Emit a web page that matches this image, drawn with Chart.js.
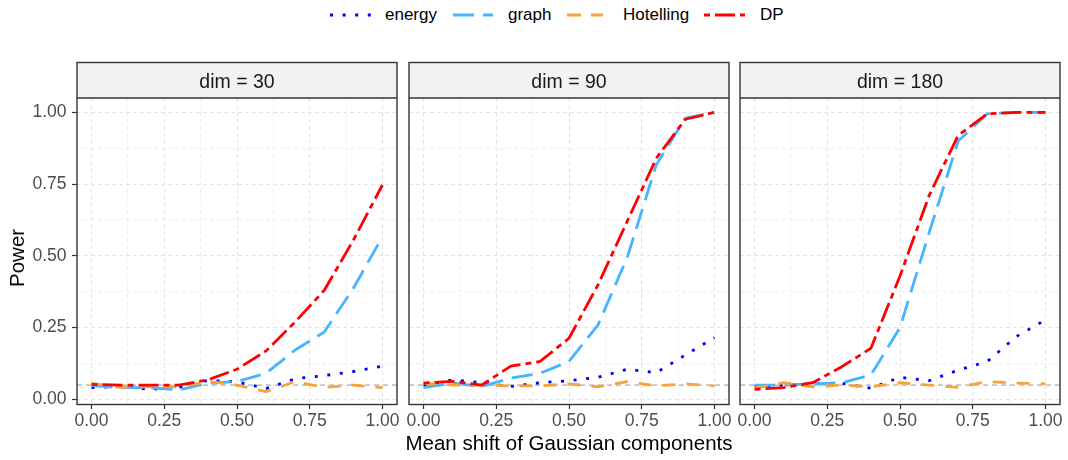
<!DOCTYPE html>
<html><head><meta charset="utf-8">
<script src="https://cdn.jsdelivr.net/npm/chart.js@4"></script>
<style>
html,body{margin:0;padding:0;background:#fff;width:1068px;height:460px;overflow:hidden;font-family:"Liberation Sans",Arial,sans-serif;}
canvas{position:absolute;}
.lt{position:absolute;top:4px;font-size:17px;line-height:22px;color:#000;white-space:nowrap;}
.ls{position:absolute;top:10px;}
#ytitle{position:absolute;left:17px;top:258px;transform:translate(-50%,-50%) rotate(-90deg);font-size:20.5px;color:#000;white-space:nowrap;}
#xtitle{position:absolute;left:569px;top:443px;transform:translate(-50%,-50%);font-size:20.5px;color:#000;white-space:nowrap;}
</style></head><body>

<svg class="ls" style="left:330px" width="42" height="10"><line x1="0" y1="5" x2="42" y2="5" stroke="#0000FF" stroke-width="3" stroke-dasharray="3 9.6"/></svg>
<div class="lt" style="left:385px">energy</div>
<svg class="ls" style="left:453px" width="40" height="10"><line x1="0" y1="5" x2="40" y2="5" stroke="#45B5FF" stroke-width="3" stroke-dasharray="21 9"/></svg>
<div class="lt" style="left:508px">graph</div>
<svg class="ls" style="left:567px" width="36" height="10"><line x1="0" y1="5" x2="36" y2="5" stroke="#F4A43A" stroke-width="3" stroke-dasharray="14 10"/></svg>
<div class="lt" style="left:623px">Hotelling</div>
<svg class="ls" style="left:704px" width="41" height="10"><line x1="0" y1="5" x2="41" y2="5" stroke="#FF0000" stroke-width="3" stroke-dasharray="6 5 20 5"/></svg>
<div class="lt" style="left:760px">DP</div>

<canvas id="c1" width="400" height="380" style="left:0px;top:60px"></canvas>
<canvas id="c2" width="330" height="380" style="left:405px;top:60px"></canvas>
<canvas id="c3" width="333" height="380" style="left:735px;top:60px"></canvas>

<div id="ytitle">Power</div>
<div id="xtitle">Mean shift of Gaussian components</div>

<script>
// ---- data ----
const shift = [0, 0.1, 0.2, 0.3, 0.4, 0.5, 0.6, 0.7, 0.8, 0.9, 1.0];
const dims = ["dim = 30", "dim = 90", "dim = 180"];
const methods = ["energy", "graph", "Hotelling", "DP"];

const energy30    = [0.041, 0.045, 0.035, 0.041, 0.066, 0.061, 0.038, 0.072, 0.083, 0.097, 0.116];
const graph30     = [0.048, 0.041, 0.041, 0.033, 0.056, 0.062, 0.091, 0.172, 0.235, 0.387, 0.567];
const hotelling30 = [0.056, 0.042, 0.044, 0.044, 0.062, 0.050, 0.027, 0.062, 0.042, 0.050, 0.041];
const dp30        = [0.052, 0.050, 0.050, 0.050, 0.068, 0.105, 0.169, 0.270, 0.380, 0.555, 0.747];

const energy90    = [0.050, 0.068, 0.058, 0.045, 0.058, 0.065, 0.077, 0.105, 0.093, 0.155, 0.215];
const graph90     = [0.041, 0.057, 0.045, 0.074, 0.091, 0.132, 0.260, 0.494, 0.817, 0.980, 1.000];
const hotelling90 = [0.057, 0.050, 0.050, 0.047, 0.047, 0.054, 0.044, 0.062, 0.047, 0.054, 0.047];
const dp90        = [0.057, 0.063, 0.050, 0.116, 0.132, 0.213, 0.400, 0.620, 0.840, 0.976, 1.000];

const energy180    = [0.045, 0.050, 0.054, 0.056, 0.039, 0.077, 0.065, 0.102, 0.132, 0.219, 0.277];
const graph180     = [0.050, 0.050, 0.054, 0.058, 0.085, 0.250, 0.580, 0.900, 0.995, 1.000, 1.000];
const hotelling180 = [0.039, 0.058, 0.044, 0.050, 0.044, 0.058, 0.050, 0.042, 0.062, 0.057, 0.054];
const dp180        = [0.035, 0.041, 0.058, 0.114, 0.178, 0.430, 0.710, 0.920, 0.995, 1.000, 1.000];

const nominalLevel = 0.05;
const xTickValues = [0, 0.125, 0.25, 0.375, 0.5, 0.625, 0.75, 0.875, 1.0];
const yTickValues = [0, 0.125, 0.25, 0.375, 0.5, 0.625, 0.75, 0.875, 1.0];

// ---- styles ----
const FONT = '"Liberation Sans", Arial, sans-serif';
const styles = {
  energy:    {color: '#0000FF', dash: [3, 9.6], order: 4},
  graph:     {color: '#45B5FF', dash: [21, 9], order: 3},
  Hotelling: {color: '#F4A43A', dash: [13, 11], order: 2},
  DP:        {color: '#FF0000', dash: [6, 5, 20, 5], order: 1}
};
const stripH = 35.5;
const isMajor = v => Math.abs(v * 4 - Math.round(v * 4)) < 1e-6;

function decoPlugin(title) {
  return {
    id: 'panelDeco',
    beforeDatasetsDraw(chart) {
      const {ctx, chartArea: a, scales: {y}} = chart;
      const py = y.getPixelForValue(nominalLevel);
      ctx.save();
      ctx.beginPath(); ctx.rect(a.left, a.top, a.width, a.height); ctx.clip();
      ctx.strokeStyle = '#C4C4C4'; ctx.lineWidth = 1.8; ctx.setLineDash([5, 4]);
      ctx.beginPath(); ctx.moveTo(a.left, py); ctx.lineTo(a.right, py); ctx.stroke();
      ctx.restore();
    },
    afterDraw(chart) {
      const {ctx, chartArea: a} = chart;
      const top = a.top - stripH;
      ctx.save();
      ctx.fillStyle = '#F2F2F2';
      ctx.fillRect(a.left, top, a.width, stripH);
      ctx.strokeStyle = '#333333'; ctx.lineWidth = 1.4; ctx.setLineDash([]);
      ctx.strokeRect(a.left, top, a.width, a.bottom - top);
      ctx.beginPath(); ctx.moveTo(a.left, a.top); ctx.lineTo(a.right, a.top); ctx.stroke();
      ctx.fillStyle = '#1A1A1A';
      ctx.font = '19.5px ' + FONT;
      ctx.textAlign = 'center'; ctx.textBaseline = 'alphabetic';
      ctx.fillText(title, (a.left + a.right) / 2, a.top - 10);
      ctx.restore();
    }
  };
}

function makePanel(id, title, series, showY, pad) {
  const datasets = methods.map((m, i) => ({
    label: m,
    data: shift.map((x, k) => ({x: x, y: series[i][k]})),
    borderColor: styles[m].color,
    borderDash: styles[m].dash,
    borderWidth: 2.8,
    borderCapStyle: 'butt',
    borderJoinStyle: 'round',
    pointRadius: 0,
    tension: 0,
    fill: false,
    order: styles[m].order
  }));
  const gridColor = c => (c.tick && isMajor(c.tick.value)) ? '#E3E3E3' : '#EFEFEF';
  const tickCol = c => (c.tick && isMajor(c.tick.value)) ? '#333333' : 'rgba(0,0,0,0)';
  return new Chart(document.getElementById(id), {
    type: 'line',
    data: {datasets},
    plugins: [decoPlugin(title)],
    options: {
      responsive: false,
      animation: false,
      events: [],
      layout: {padding: pad},
      plugins: {legend: {display: false}, tooltip: {enabled: false}},
      scales: {
        x: {
          type: 'linear', min: -0.05, max: 1.05,
          afterBuildTicks: s => { s.ticks = xTickValues.map(v => ({value: v})); },
          afterFit: s => { s.height = 35.5; s.paddingLeft = 0; s.paddingRight = 0; },
          ticks: {
            autoSkip: false, maxRotation: 0, padding: 2,
            color: '#4D4D4D', font: {family: FONT, size: 17.5},
            callback: v => isMajor(v) ? v.toFixed(2) : ''
          },
          grid: {color: gridColor, lineWidth: 1, tickLength: 4.5, tickColor: tickCol, tickWidth: 1.2, tickBorderDash: []},
          border: {display: false, dash: [4, 3]}
        },
        y: {
          type: 'linear', min: -0.0178, max: 1.05,
          afterBuildTicks: s => { s.ticks = yTickValues.map(v => ({value: v})); },
          afterFit: s => { s.width = showY ? 77 : 0; s.paddingTop = 0; s.paddingBottom = 0; },
          ticks: {
            display: showY, padding: 5.5,
            color: '#4D4D4D', font: {family: FONT, size: 17.5},
            callback: v => isMajor(v) ? v.toFixed(2) : ''
          },
          grid: {color: gridColor, lineWidth: 1, drawTicks: showY, tickLength: 5, tickColor: tickCol, tickWidth: 1.2, tickBorderDash: []},
          border: {display: false, dash: [4, 3]}
        }
      }
    }
  });
}

makePanel('c1', dims[0], [energy30, graph30, hotelling30, dp30], true, {left: 0, right: 3, top: 38, bottom: 0});
makePanel('c2', dims[1], [energy90, graph90, hotelling90, dp90], false, {left: 4, right: 6, top: 38, bottom: 0});
makePanel('c3', dims[2], [energy180, graph180, hotelling180, dp180], false, {left: 5, right: 8, top: 38, bottom: 0});
</script>
</body></html>
